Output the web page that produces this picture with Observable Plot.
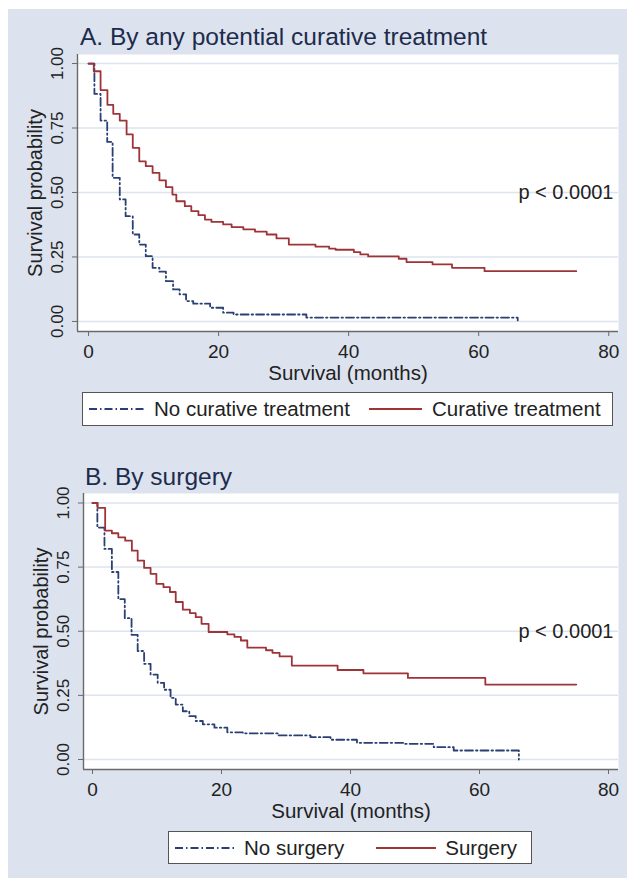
<!DOCTYPE html>
<html><head><meta charset="utf-8">
<script src="https://cdn.jsdelivr.net/npm/d3@7"></script>
<script src="https://cdn.jsdelivr.net/npm/@observablehq/plot@0.6"></script>
<style>
body{margin:0;background:#fff;font-family:"Liberation Sans",Arial,sans-serif;}
#page{position:relative;width:627px;height:878px;overflow:hidden;}
#bg{position:absolute;left:8px;top:9px;width:619px;height:869px;background:#dce2ee;}
.title{position:absolute;font-size:24.5px;line-height:24px;color:#1d2c4c;white-space:nowrap;}
.plot{position:absolute;}
.legend{position:absolute;box-sizing:border-box;background:#fff;border:1px solid #555;display:flex;align-items:center;font-size:20.5px;color:#222;white-space:nowrap;}
.legend svg{display:block;flex:none;}
</style></head><body>
<div id="page"><div id="bg"></div>
<div class="title" style="left:80px;top:24.7px">A. By any potential curative treatment</div>
<div id="plotA" class="plot" style="left:8px;top:50px"></div>
<div id="legA" class="legend" style="left:82px;top:392px;width:531px;height:34px"></div>
<div class="title" style="left:85px;top:464.7px">B. By surgery</div>
<div id="plotB" class="plot" style="left:8px;top:489px"></div>
<div id="legB" class="legend" style="left:168px;top:831px;width:364px;height:33px"></div>
</div>
<script>
// ---- shared axis / text content ----
const xTicks = [0, 20, 40, 60, 80];
const yTicks = [0, 0.25, 0.5, 0.75, 1];
const xLabel = "Survival (months)";
const yLabel = "Survival probability";
const pText = "p < 0.0001";

// ---- Panel A: by any potential curative treatment ----
const titleA = "A. By any potential curative treatment";
const seriesA = ["No curative treatment", "Curative treatment"];
const aNoT = [0, 0.9, 1.85, 2.87, 3.7, 4.8, 5.7, 6.8, 7.8, 8.8, 9.85, 10.9, 11.9, 13.0, 14.0, 15.0, 16.1, 18.7, 20.7, 22.3, 33.5, 66, 66];
const aNoS = [1.0, 0.882, 0.779, 0.696, 0.557, 0.473, 0.408, 0.337, 0.298, 0.253, 0.208, 0.193, 0.156, 0.124, 0.105, 0.079, 0.069, 0.053, 0.034, 0.027, 0.015, 0.015, 0.004];
const aCurT = [0, 0.8, 1.85, 2.9, 3.8, 4.8, 5.85, 6.8, 7.8, 8.8, 9.85, 10.9, 11.9, 12.9, 13.5, 14.8, 15.8, 16.9, 17.9, 18.9, 20.7, 22.0, 23.8, 25.6, 27.4, 28.9, 30.8, 34.9, 37.0, 38.0, 40.8, 41.8, 43.0, 47.7, 48.9, 52.9, 55.9, 60.9, 75];
const aCurS = [1.0, 0.97, 0.897, 0.84, 0.805, 0.779, 0.725, 0.673, 0.621, 0.602, 0.576, 0.547, 0.521, 0.492, 0.466, 0.447, 0.428, 0.412, 0.395, 0.386, 0.376, 0.366, 0.357, 0.348, 0.337, 0.322, 0.298, 0.29, 0.282, 0.278, 0.269, 0.26, 0.252, 0.243, 0.230, 0.221, 0.208, 0.195, 0.195];

// ---- Panel B: by surgery ----
const titleB = "B. By surgery";
const seriesB = ["No surgery", "Surgery"];
const bNoT = [0, 0.75, 1.85, 3.0, 4.0, 5.0, 6.05, 7.0, 8.0, 9.0, 10.1, 11.1, 12.1, 12.9, 14.0, 15.0, 16.0, 17.1, 18.9, 20.9, 23.3, 28.7, 33.8, 36.9, 41.0, 48.3, 52.9, 56.0, 66.1, 66.1];
const bNoS = [1.0, 0.904, 0.821, 0.731, 0.625, 0.551, 0.486, 0.423, 0.373, 0.331, 0.299, 0.272, 0.24, 0.214, 0.188, 0.169, 0.15, 0.137, 0.124, 0.106, 0.102, 0.094, 0.087, 0.077, 0.065, 0.061, 0.048, 0.035, 0.035, 0.0];
const bSurT = [0, 0.78, 1.96, 3.0, 4.0, 5.07, 6.1, 7.0, 8.0, 9.0, 9.9, 11.0, 12.0, 12.9, 14.0, 15.1, 16.0, 16.9, 18.0, 20.9, 22.0, 23.0, 24.0, 26.9, 27.9, 29.0, 30.9, 38.0, 42.0, 48.9, 60.9, 75];
const bSurS = [1.0, 0.981, 0.892, 0.882, 0.866, 0.853, 0.814, 0.775, 0.747, 0.724, 0.685, 0.672, 0.653, 0.614, 0.584, 0.571, 0.555, 0.529, 0.497, 0.488, 0.478, 0.464, 0.436, 0.426, 0.416, 0.402, 0.366, 0.349, 0.336, 0.318, 0.292, 0.292];

const RED = "#9e3338", NAVY = "#2a3f73", DASH = "8,3,1.5,3";
const FONT = "'Liberation Sans', Arial, sans-serif";
const rows = (T, S) => T.map((t, i) => ({t, s: S[i]}));

function panel({xDomain, yDomain, marginLeft, marginBottom, noRows, yesRows}) {
  return Plot.plot({
    width: 619, height: 335,
    marginLeft, marginRight: 9, marginTop: 4, marginBottom,
    x: {domain: xDomain, label: null},
    y: {domain: yDomain, label: null},
    style: {background: "transparent", fontFamily: FONT, color: "#222", overflow: "visible"},
    marks: [
      Plot.frame({fill: "white", stroke: null}),
      Plot.gridY(yTicks, {stroke: "#dde3ef", strokeOpacity: 1, strokeWidth: 1.5}),
      Plot.ruleX([xDomain[0]], {stroke: "#6a6a6a", strokeWidth: 1.4}),
      Plot.ruleY([yDomain[0]], {stroke: "#6a6a6a", strokeWidth: 1.4}),
      Plot.axisX({ticks: xTicks, tickSize: 5, tickPadding: 8, fontSize: 19, stroke: "#6a6a6a", fill: "#222", label: null}),
      Plot.axisY({ticks: yTicks, tickSize: 5, tickPadding: 10, tickRotate: -90, fontSize: 17, tickFormat: d3.format(".2f"), stroke: "#6a6a6a", fill: "#222", label: null}),
      Plot.text([xLabel], {frameAnchor: "bottom", lineAnchor: "middle", dy: 42, text: d => d, fontSize: 20.5, fill: "#222"}),
      Plot.text([yLabel], {frameAnchor: "left", textAnchor: "middle", lineAnchor: "middle", dx: -41.5, rotate: -90, text: d => d, fontSize: 20, fill: "#222"}),
      Plot.line(noRows, {x: "t", y: "s", curve: "step-after", stroke: NAVY, strokeWidth: 1.8, strokeDasharray: DASH}),
      Plot.line(yesRows, {x: "t", y: "s", curve: "step-after", stroke: RED, strokeWidth: 1.8}),
      Plot.text([pText], {frameAnchor: "right", y: [0.5], text: d => d, textAnchor: "end", lineAnchor: "middle", dx: -5, fontSize: 20, fill: "#222"})
    ]
  });
}

document.getElementById("plotA").append(panel({
  xDomain: [-1.7, 81.5], yDomain: [-0.039, 1.035], marginLeft: 69, marginBottom: 54,
  noRows: rows(aNoT, aNoS), yesRows: rows(aCurT, aCurS)
}));
document.getElementById("plotB").append(panel({
  xDomain: [-1.4, 81.55], yDomain: [-0.039, 1.037], marginLeft: 75, marginBottom: 55,
  noRows: rows(bNoT, bNoS), yesRows: rows(bSurT, bSurS)
}));

function sample(w, color, dash, ml, mr) {
  const ns = "http://www.w3.org/2000/svg";
  const s = document.createElementNS(ns, "svg");
  s.setAttribute("width", w); s.setAttribute("height", 10);
  s.style.marginLeft = ml + "px"; s.style.marginRight = mr + "px";
  const l = document.createElementNS(ns, "line");
  l.setAttribute("x1", 0); l.setAttribute("x2", w); l.setAttribute("y1", 5); l.setAttribute("y2", 5);
  l.setAttribute("stroke", color); l.setAttribute("stroke-width", 1.8);
  if (dash) l.setAttribute("stroke-dasharray", dash);
  s.append(l);
  return s;
}
function label(t) { const sp = document.createElement("span"); sp.textContent = t; return sp; }

const legA = document.getElementById("legA");
legA.append(sample(56, NAVY, DASH, 6, 9), label(seriesA[0]), sample(53, RED, null, 19, 10), label(seriesA[1]));
const legB = document.getElementById("legB");
legB.append(sample(61, NAVY, DASH, 6, 8), label(seriesB[0]), sample(60, RED, null, 32, 9), label(seriesB[1]));
</script>
</body></html>
